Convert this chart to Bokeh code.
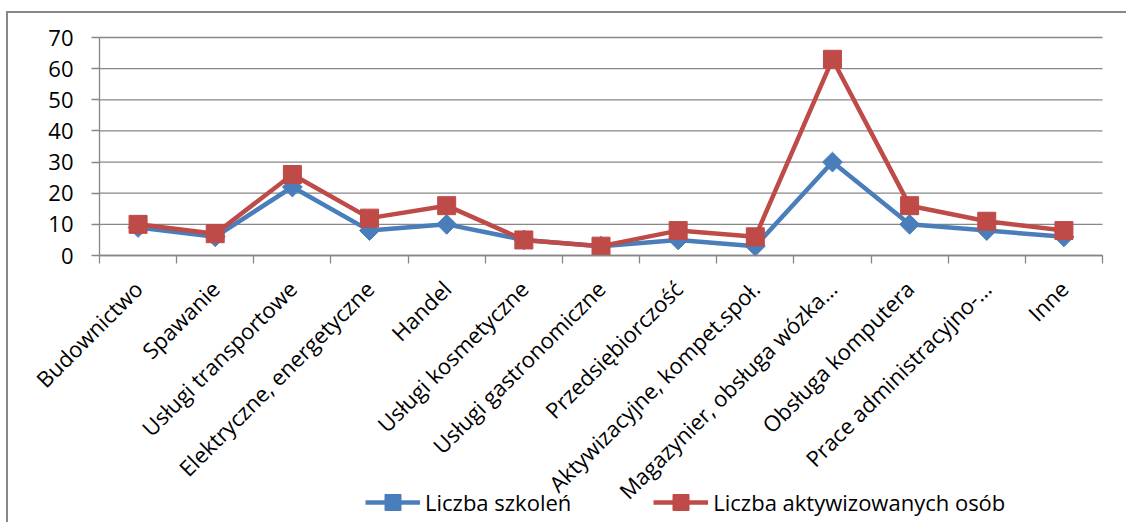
import numpy as np
from bokeh.plotting import figure
from bokeh.models import (ColumnDataSource, Range1d, FixedTicker, CustomJSTickFormatter,
                          Legend, LegendItem)
from bokeh.embed import file_html
from bokeh.resources import INLINE

categories = ["Budownictwo", "Spawanie", "Usługi transportowe", "Elektryczne, energetyczne",
              "Handel", "Usługi kosmetyczne", "Usługi gastronomiczne", "Przedsiębiorczość",
              "Aktywizacyjne, kompet.społ.", "Magazynier, obsługa wózka…", "Obsługa komputera",
              "Prace administracyjno-…", "Inne"]
liczba_szkolen = [9, 6, 22, 8, 10, 5, 3, 5, 3, 30, 10, 8, 6]
liczba_osob = [10, 7, 26, 12, 16, 5, 3, 8, 6, 63, 16, 11, 8]
y_ticks = [0, 10, 20, 30, 40, 50, 60, 70]
series_names = ["Liczba szkoleń", "Liczba aktywizowanych osób"]

n = len(categories)
xs = [i + 0.5 for i in range(n)]
src = ColumnDataSource(dict(x=xs, a=liczba_szkolen, b=liczba_osob))
grid_src = ColumnDataSource(dict(y=y_ticks, x0=[0] * len(y_ticks), x1=[n] * len(y_ticks)))

GRAY = "#878787"
BLUE = "#4a7ebb"
RED = "#be4b48"
FONT = "Open Sans"

# layout in pixels (canvas 1120 x 511); plot area 1003 x 218, offset (91, 24)
W, H = 1120, 511
PL, PT, PW, PH = 91, 24, 1003, 218
Y_MAX = y_ticks[-1]
px_x = PW / n
px_y = PH / Y_MAX
x_lo, x_hi = -PL / px_x, n + (W - PL - PW) / px_x
y_lo, y_hi = -(H - PT - PH) / px_y, Y_MAX + PT / px_y

p = figure(width=W, height=H, x_range=Range1d(x_lo, x_hi), y_range=Range1d(y_lo, y_hi),
           output_backend="svg", toolbar_location=None,
           min_border_left=0, min_border_right=0, min_border_top=0, min_border_bottom=0)
p.styles = {"border-top": "2px solid " + GRAY, "border-left": "2px solid " + GRAY,
            "margin-top": "11px", "margin-left": "6px"}
p.outline_line_color = None
p.background_fill_color = "white"
p.border_fill_color = "white"
p.xgrid.visible = False
p.ygrid.visible = False

# horizontal gridlines over the category span only
p.segment(x0="x0", y0="y", x1="x1", y1="y", source=grid_src, line_color=GRAY, line_width=1.3)

# y axis drawn at x = 0
ya = p.yaxis[0]
ya.fixed_location = 0
ya.bounds = (0, Y_MAX)
ya.ticker = FixedTicker(ticks=y_ticks)
ya.axis_line_color = GRAY
ya.axis_line_width = 1.3
ya.major_tick_line_color = GRAY
ya.major_tick_line_width = 1.3
ya.major_tick_in = 0
ya.major_tick_out = 8
ya.minor_tick_line_color = None
ya.major_label_text_font = FONT
ya.major_label_text_font_size = "22px"
ya.major_label_text_color = "black"
ya.major_label_standoff = 18

# x axis drawn at y = 0: labels at category centres, ticks at boundaries
xa = p.xaxis[0]
xa.fixed_location = 0
xa.bounds = (0, n)
xa.ticker = FixedTicker(ticks=xs, minor_ticks=list(range(n + 1)))
xa.formatter = CustomJSTickFormatter(args=dict(labels=categories),
                                     code="return labels[Math.floor(tick)];")
xa.major_label_orientation = np.pi / 4
xa.major_tick_line_color = None
xa.major_tick_in = 0
xa.major_tick_out = 8
xa.minor_tick_line_color = GRAY
xa.minor_tick_line_width = 1.3
xa.minor_tick_in = 0
xa.minor_tick_out = 8
xa.axis_line_color = GRAY
xa.axis_line_width = 1.3
xa.major_label_text_font = FONT
xa.major_label_text_font_size = "22px"
xa.major_label_text_color = "black"
xa.major_label_standoff = 21

bl = p.line("x", "a", source=src, line_color=BLUE, line_width=4.5)
bs = p.scatter("x", "a", source=src, marker="square", angle=np.pi / 4, size=14,
               fill_color=BLUE, line_color=BLUE)
rl = p.line("x", "b", source=src, line_color=RED, line_width=4.5)
rs = p.scatter("x", "b", source=src, marker="square", size=18,
               fill_color=RED, line_color=RED)

legend = Legend(items=[LegendItem(label=series_names[0], renderers=[bl, bs]),
                       LegendItem(label=series_names[1], renderers=[rl, rs])],
                orientation="horizontal", location=(357, 2),
                glyph_width=55, glyph_height=40, label_standoff=5, spacing=82,
                padding=0, margin=0, border_line_color=None, background_fill_alpha=0,
                label_text_font=FONT, label_text_font_size="22px", label_text_color="black")
p.add_layout(legend, "center")

open("out.html", "w").write(file_html(p, INLINE))
